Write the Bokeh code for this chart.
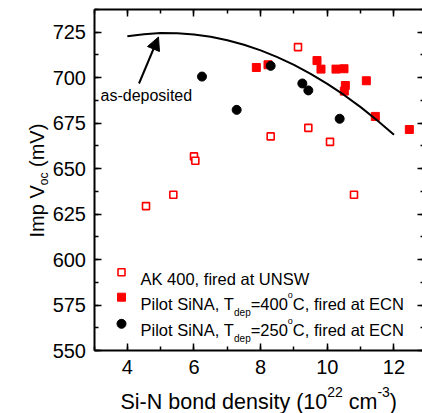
from bokeh.plotting import figure
from bokeh.models import (Range1d, LinearAxis, Label, Arrow, NormalHead,
                          SingleIntervalTicker, CustomJSTickFormatter)
from bokeh.embed import file_html
from bokeh.resources import INLINE

# ---------------- data ----------------
ak_x = [9.12, 8.30, 9.43, 10.08, 6.00, 6.04, 5.38, 10.80, 4.56]
ak_y = [716.8, 667.7, 672.4, 664.7, 656.7, 654.3, 635.6, 635.6, 629.4]

p400_x = [7.87, 8.22, 9.69, 9.81, 10.26, 10.50, 10.54, 10.51, 11.17, 11.44, 12.46]
p400_y = [705.6, 707.1, 709.4, 704.7, 704.7, 704.9, 695.7, 692.6, 698.3, 678.7, 671.5]

p250_x = [6.24, 7.28, 8.30, 9.25, 9.43, 10.37]
p250_y = [700.6, 682.3, 706.5, 696.8, 693.0, 677.4]

curve_x = [4.0, 4.5, 5.0, 5.5, 6.0, 6.5, 7.0, 7.5, 8.0, 8.5, 9.0, 9.5, 10.0, 10.5, 11.0, 11.5, 12.0]
curve_y = [722.8, 723.9, 724.5, 724.4, 723.7, 722.5, 720.6, 718.1, 715.0, 711.3, 707.0,
           702.1, 696.6, 690.5, 683.8, 676.5, 668.6]

x_axis_min, x_axis_max = 3.0, 12.93
y_axis_min, y_axis_max = 550.0, 737.5

legend_labels = ["AK 400, fired at UNSW",
                 ("Pilot SiNA, T", "dep", "=400", "o", "C, fired at ECN"),
                 ("Pilot SiNA, T", "dep", "=250", "o", "C, fired at ECN")]
x_label = ("Si-N bond density (10", "22", " cm", "-3", ")")
y_label = ("Imp V", "oc", " (mV)")
annot_text = "as-deposited"

# ---------------- layout ----------------
FONT = "Liberation Sans"
W, H = 422, 413
SX = 33.333       # px per x unit
SY = 1.8189       # px per mV
AX_PX = 93.5      # canvas x of the left axis
AY_PX = 350.0     # canvas y of the bottom axis
X0 = x_axis_min - AX_PX / SX
X1 = X0 + W / SX
Y1 = y_axis_min + AY_PX / SY
Y0 = Y1 - H / SY


def dx(px):
    return X0 + px / SX


def dy(py):
    return Y1 - py / SY


AW = {' ': 278, '(': 333, ')': 333, '-': 333, '.': 278, ',': 278, '=': 584,
      'A': 667, 'C': 722, 'E': 667, 'I': 278, 'K': 667, 'N': 722, 'P': 667, 'S': 667,
      'T': 611, 'U': 722, 'V': 667, 'W': 944,
      'a': 556, 'b': 556, 'c': 500, 'd': 556, 'e': 556, 'f': 278, 'g': 556, 'h': 556,
      'i': 222, 'l': 222, 'm': 833, 'n': 556, 'o': 556, 'p': 556, 'r': 333, 's': 500,
      't': 278, 'u': 556, 'v': 500, 'y': 500}


def tw(s, size):
    return sum(AW.get(c, 556) for c in s) * size / 1000.0


p = figure(width=W, height=H, x_range=Range1d(X0, X1), y_range=Range1d(Y0, Y1),
           output_backend="svg", toolbar_location=None,
           x_axis_location=None, y_axis_location=None,
           min_border=0, min_border_left=0, min_border_right=0,
           min_border_top=0, min_border_bottom=0)
p.outline_line_color = None
p.xgrid.grid_line_color = None
p.ygrid.grid_line_color = None
p.background_fill_color = "white"
p.border_fill_color = "white"


def make_axis(interval, loc, bounds, standoff, labels=True, line=True):
    ax = LinearAxis(ticker=SingleIntervalTicker(interval=interval, num_minor_ticks=2),
                    fixed_location=loc, bounds=bounds)
    ax.axis_line_width = 2
    ax.axis_line_color = "black" if line else None
    ax.major_tick_in = 7
    ax.major_tick_out = 0
    ax.minor_tick_in = 4
    ax.minor_tick_out = 0
    ax.major_tick_line_width = 1.5
    ax.minor_tick_line_width = 1.5
    ax.major_tick_line_color = "black"
    ax.minor_tick_line_color = "black"
    ax.major_label_text_font = FONT
    ax.major_label_text_font_size = "20px"
    ax.major_label_text_color = "black"
    ax.major_label_standoff = standoff
    if not labels:
        ax.formatter = CustomJSTickFormatter(code="return ''")
    return ax


p.add_layout(make_axis(2, y_axis_min, (x_axis_min, x_axis_max), 9), "below")
p.add_layout(make_axis(25, x_axis_min, (y_axis_min, y_axis_max), 8), "left")
p.add_layout(make_axis(2, y_axis_max, (x_axis_min, x_axis_max), 0, labels=False), "above")
p.add_layout(make_axis(25, x_axis_max, (y_axis_min, y_axis_max), 0, labels=False,
                       line=False), "right")

# ---------------- data marks ----------------
p.scatter(ak_x, ak_y, marker="square", size=7, line_color="red", line_width=1.6,
          fill_color="white")
p.scatter(p400_x, p400_y, marker="square", size=8, line_color="red", fill_color="red")
p.scatter(p250_x, p250_y, marker="circle", size=9, line_color="black", fill_color="black")
p.line(curve_x, curve_y, line_color="black", line_width=2)

# arrow + annotation
p.add_layout(Arrow(x_start=dx(138.5), y_start=dy(83), x_end=dx(158), y_end=dy(36.5),
                   line_width=2, line_color="black",
                   end=NormalHead(size=13, fill_color="black", line_color="black")))
p.add_layout(Label(x=dx(100), y=dy(95), text=annot_text, text_font=FONT,
                   text_font_size="16px", text_color="black", text_baseline="alphabetic"))


def pieces(x_px, y_px, segs, vertical=False):
    """segs: (text, size, shift_px); positive shift = raised"""
    pos = 0.0
    for text, size, shift in segs:
        stripped = text.lstrip(" ")
        pos += tw(text[:len(text) - len(stripped)], size)
        if vertical:
            lx, ly, ang = dx(x_px - shift), dy(y_px - pos), 1.5707963
        else:
            lx, ly, ang = dx(x_px + pos), dy(y_px - shift), 0
        p.add_layout(Label(x=lx, y=ly, text=stripped, angle=ang, text_font=FONT,
                           text_font_size=f"{size}px", text_color="black",
                           text_align="left", text_baseline="alphabetic"))
        pos += tw(stripped, size)


# axis titles
pieces(120, 401, [(x_label[0], 21.5, 0), (x_label[1], 14, 10), (x_label[2], 21.5, 0),
                  (x_label[3], 14, 10), (x_label[4], 21.5, 0)])
pieces(36, 237, [(y_label[0], 20, 0), (y_label[1], 12, -7), (y_label[2], 20, 0)],
       vertical=True)

# legend
leg_rows_y = [271.7, 296.7, 323.3]
leg_base = [278.3, 303.3, 329.0]
p.scatter([dx(121)], [dy(leg_rows_y[0])], marker="square", size=7, line_color="red",
          line_width=1.6, fill_color="white")
p.scatter([dx(121)], [dy(leg_rows_y[1])], marker="square", size=8, line_color="red",
          fill_color="red")
p.scatter([dx(121)], [dy(leg_rows_y[2])], marker="circle", size=9, line_color="black",
          fill_color="black")
pieces(140, leg_base[0], [(legend_labels[0], 16.5, 0)])
for i in (1, 2):
    a, b, c, d, e = legend_labels[i]
    pieces(140, leg_base[i], [(a, 16.5, 0), (b, 10, -9), (c, 16.5, 0), (d, 9, 8.5),
                              (e, 16.5, 0)])

open("out.html", "w").write(file_html(p, INLINE))
